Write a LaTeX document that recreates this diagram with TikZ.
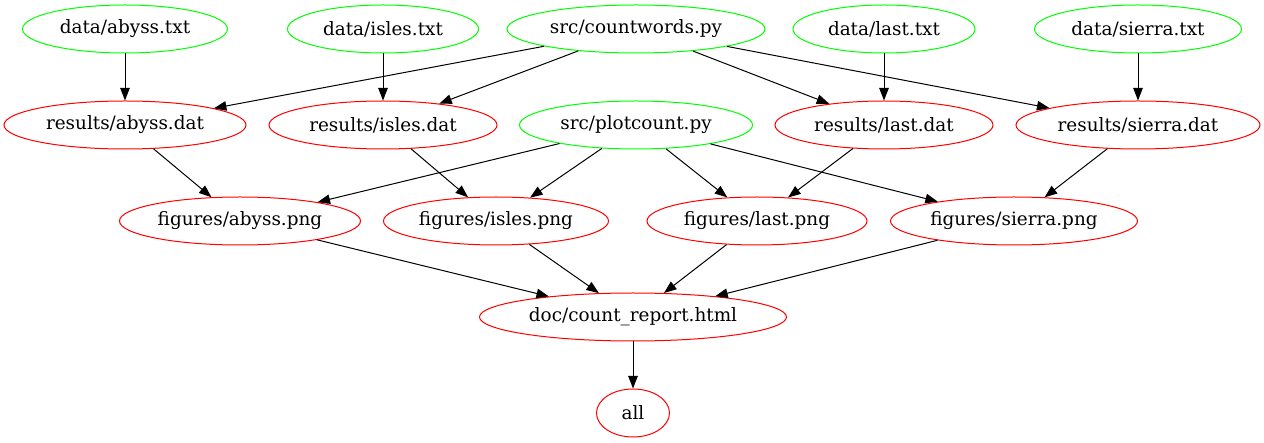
\documentclass[tikz,border=0pt]{standalone}
\usepackage{fontspec}
\setmainfont{DejaVu Serif}
\usetikzlibrary{shapes.geometric,arrows.meta}
\definecolor{gvgreen}{RGB}{0,255,0}
\definecolor{gvred}{RGB}{255,0,0}
\tikzset{
  gvnode/.style={ellipse,inner sep=0pt,minimum height=48pt,line width=1pt,font=\fontsize{18.4pt}{21pt}\selectfont},
  src/.style={gvnode,draw=gvgreen},
  tgt/.style={gvnode,draw=gvred},
  edge/.style={draw=black,-{Triangle[length=12.5pt,width=9.5pt]},line width=1pt}
}
\begin{document}
\begin{tikzpicture}[x=1pt,y=-1pt]
\useasboundingbox (0,0) rectangle (1264,443);
% row 1
\node[src,minimum width=205pt] (at) at (125,29) {data/abyss.txt};
\node[src,minimum width=191pt] (it) at (383,29) {data/isles.txt};
\node[src,minimum width=258pt] (cw) at (636,29) {src/countwords.py};
\node[src,minimum width=182pt] (lt) at (884,29) {data/last.txt};
\node[src,minimum width=207pt] (st) at (1138,29) {data/sierra.txt};
% row 2
\node[tgt,minimum width=242pt] (ad) at (125,125) {results/abyss.dat};
\node[tgt,minimum width=228pt] (id) at (383,125) {results/isles.dat};
\node[src,minimum width=233pt] (pc) at (636,125) {src/plotcount.py};
\node[tgt,minimum width=218pt] (ld) at (884,125) {results/last.dat};
\node[tgt,minimum width=244pt] (sd) at (1138,125) {results/sierra.dat};
% row 3
\node[tgt,minimum width=241pt] (ap) at (240,221) {figures/abyss.png};
\node[tgt,minimum width=225pt] (ip) at (496,221) {figures/isles.png};
\node[tgt,minimum width=220pt] (lp) at (757,221) {figures/last.png};
\node[tgt,minimum width=247pt] (sp) at (1014,221) {figures/sierra.png};
% row 4
\node[tgt,minimum width=307pt] (doc) at (633,317) {doc/count\_report.html};
\node[tgt,minimum width=73pt] (all) at (633,413) {all};
% edges
\draw[edge] (at) -- (ad);
\draw[edge] (it) -- (id);
\draw[edge] (lt) -- (ld);
\draw[edge] (st) -- (sd);
\draw[edge] (cw) -- (ad);
\draw[edge] (cw) -- (id);
\draw[edge] (cw) -- (ld);
\draw[edge] (cw) -- (sd);
\draw[edge] (ad) -- (ap);
\draw[edge] (id) -- (ip);
\draw[edge] (ld) -- (lp);
\draw[edge] (sd) -- (sp);
\draw[edge] (pc) -- (ap);
\draw[edge] (pc) -- (ip);
\draw[edge] (pc) -- (lp);
\draw[edge] (pc) -- (sp);
\draw[edge] (ap) -- (doc);
\draw[edge] (ip) -- (doc);
\draw[edge] (lp) -- (doc);
\draw[edge] (sp) -- (doc);
\draw[edge] (doc) -- (all);
\end{tikzpicture}
\end{document}
